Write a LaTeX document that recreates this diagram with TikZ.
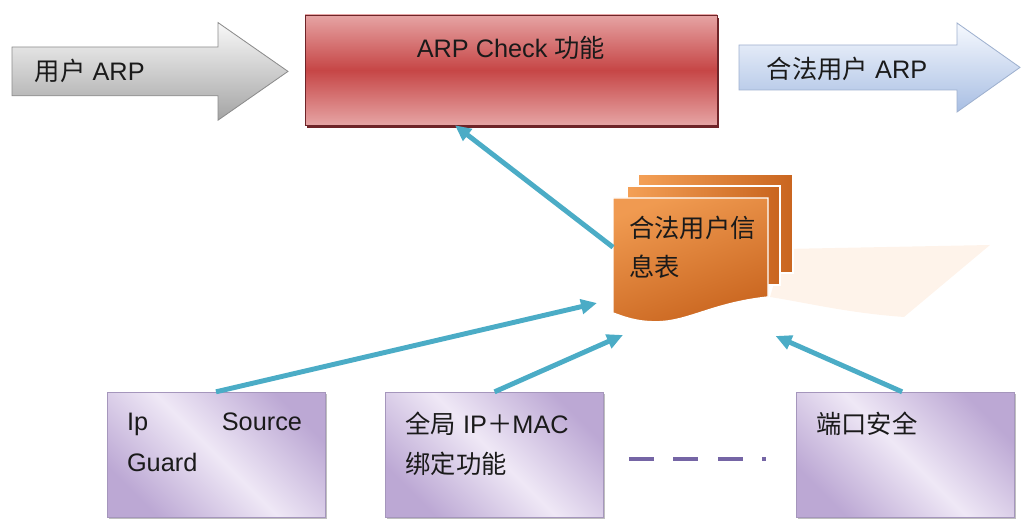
\documentclass[tikz,border=0pt]{standalone}
\usepackage{fontspec}
\setmainfont{Liberation Sans}
\newfontfamily\cjk{Noto Sans CJK SC}
\usepackage{tikz}
\usetikzlibrary{arrows.meta,calc,positioning,shadows}
\definecolor{ink}{HTML}{1A1A1A}
\definecolor{link}{HTML}{4BACC6}
\definecolor{redtop}{HTML}{E6A4A4}
\definecolor{redmid}{HTML}{C64646}
\definecolor{redrim}{HTML}{6E2428}
\definecolor{graytop}{HTML}{F8F8F8}
\definecolor{graybot}{HTML}{A4A4A4}
\definecolor{grayrim}{HTML}{8C8C8C}
\definecolor{bluetop}{HTML}{F6F9FE}
\definecolor{bluebot}{HTML}{A8BEE3}
\definecolor{bluerim}{HTML}{9FB1CF}
\definecolor{orgtop}{HTML}{F4A056}
\definecolor{orgbot}{HTML}{C9651F}
\definecolor{lilac}{HTML}{EFE8F6}
\definecolor{lilacdk}{HTML}{BCA8D4}
\definecolor{lilacrim}{HTML}{A596BC}
\definecolor{dotline}{HTML}{7565A5}
\definecolor{peach}{HTML}{FEF3EA}

\begin{document}
\begin{tikzpicture}[x=1cm,y=1cm,font=\fontsize{18}{27}\selectfont,text=ink,
  link/.style={draw=link,line width=3.5pt,-{Triangle[length=0.4cm,width=0.36cm]}},
  ubox/.style={minimum width=5.45cm,minimum height=3.125cm,inner sep=0,draw=lilacrim,
    top color=lilacdk,bottom color=lilacdk,middle color=lilac,shading angle=-45,
    drop shadow={shadow xshift=0.04cm,shadow yshift=-0.05cm,fill=black!25,opacity=1}},
  btxt/.style={anchor=north west,align=left,inner sep=0,font=\fontsize{18}{28.5}\selectfont},
  sheet/.style={draw=white,line width=1pt,left color=orgtop,right color=orgbot}]
\useasboundingbox (0,0) rectangle (25.725,13.025);

% flow in and out
\shade[top color=graytop,bottom color=graybot,draw=grayrim,line width=0.6pt]
  (0.3,11.85) -- (5.45,11.85) -- (5.45,12.46) -- (7.2,11.24) -- (5.45,10.02) -- (5.45,10.63) -- (0.3,10.63) -- cycle;
\node[anchor=west] (usr) at (0.75,11.24) {{\cjk 用户} ARP};
\shade[top color=bluetop,bottom color=bluebot,draw=bluerim,line width=0.6pt]
  (18.475,11.9) -- (23.925,11.9) -- (23.925,12.45) -- (25.5,11.34) -- (23.925,10.225) -- (23.925,10.775) -- (18.475,10.775) -- cycle;
\node[anchor=west] (ok) at (19.05,11.3) {{\cjk 合法用户} ARP};

% check box
\node[minimum width=10.3cm,minimum height=2.75cm,inner sep=0,draw=redrim,
  top color=redtop,bottom color=redtop,middle color=redmid,
  drop shadow={shadow xshift=0.06cm,shadow yshift=-0.07cm,fill=redrim,opacity=1}]
  (chk) at (12.775,11.275) {};
\node (chktxt) at ([yshift=-0.83cm]chk.north) {ARP Check {\cjk 功能}};

% table of legal users
\fill[peach] (19.6,6.8) -- (24.75,6.9) -- (22.6,5.1) .. controls (21.2,5.2) and (20.2,5.45) .. (19.25,5.6) -- cycle;
\shade[sheet] (15.95,6.2) rectangle (19.825,8.675);
\shade[sheet] (15.675,5.9) rectangle (19.5,8.375);
\shade[draw=white,line width=1pt,top color=orgtop!90!orgbot,bottom color=orgbot,shading angle=20]
  (15.325,8.075) -- (19.2,8.075) -- (19.2,5.6) .. controls (17.8,5.45) and (17.2,4.98) .. (16.4,4.98)
  .. controls (15.9,4.98) and (15.6,5.1) .. (15.325,5.2) -- cycle;
\node[inner sep=0,minimum width=3.875cm,minimum height=2.875cm,anchor=south west] (tbl) at (15.325,5.2) {};
\node[btxt,font=\fontsize{18}{27.6}\selectfont\cjk] (tbltxt) at (15.72,7.62) {合法用户信\\息表};

% sources
\node[ubox] (ipsg) at (5.4,1.66) {};
\node[ubox,right=1.5cm of ipsg] (gbnd) {};
\node[ubox,right=4.8cm of gbnd] (psec) {};
\node[btxt,text width=4.375cm] (ipsgtxt) at ([shift={(0.5,-0.53)}]ipsg.north west) {Ip\hfill Source\\Guard};
\node[btxt] (gbndtxt) at ([shift={(0.5,-0.5)}]gbnd.north west) {{\cjk 全局} IP{\cjk ＋}MAC\\{\cjk 绑定功能}};
\node[btxt,font=\fontsize{18}{28.5}\selectfont\cjk] (psectxt) at ([shift={(0.5,-0.5)}]psec.north west) {端口安全};
\draw[draw=dotline,line width=3.5pt,dash pattern=on 0.625cm off 0.4875cm]
  ([shift={(0.625,-0.11)}]gbnd.east) -- ([shift={(-0.75,-0.11)}]psec.west);

% links
\draw[link] ([yshift=0.2cm]tbl.west) -- ([xshift=-1.4cm]chk.south);
\draw[link] (ipsg.north) -- ([shift={(-0.4,0.25)}]tbl.south west);
\draw[link] (gbnd.north) -- ([shift={(0.25,-0.55)}]tbl.south west);
\draw[link] ([xshift=-0.075cm]psec.north) -- ([shift={(0.175,-0.575)}]tbl.south east);
\end{tikzpicture}
\end{document}
